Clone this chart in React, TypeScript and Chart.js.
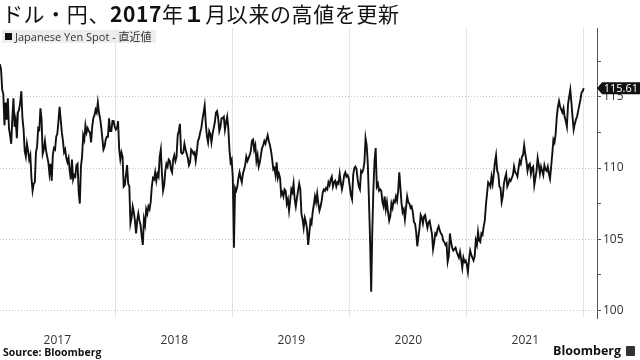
import React, { useEffect, useRef } from "react";
import { Chart, registerables } from "chart.js";

Chart.register(...registerables);

// ---- data (semi-weekly samples, 104 per year) ----
const STEPS_PER_YEAR = 104;
const YEARS = [2017, 2018, 2019, 2020, 2021, 2022];

const Y2017 = [
  118.5, 117.3, 116.9, 115.5, 115.2, 113.0, 114.6, 113.4,
  114.9, 112.8, 112.3, 111.7, 113.5, 114.9, 112.9, 113.4,
  112.1, 113.9, 114.1, 114.6, 115.4, 113.5, 112.7, 111.2,
  110.8, 111.7, 111.2, 110.6, 110.9, 109.3, 108.4, 108.9,
  109.0, 111.1, 111.5, 112.8, 112.7, 114.2, 113.4, 111.0,
  111.3, 111.9, 111.2, 110.8, 110.4, 109.6, 110.3, 109.1,
  110.9, 111.4, 111.3, 112.2, 112.4, 113.3, 114.3, 113.4,
  112.5, 111.9, 111.1, 111.3, 110.7, 110.4, 110.7, 109.8,
  109.2, 110.6, 109.2, 109.5, 109.4, 110.2, 110.3, 108.3,
  107.5, 110.1, 110.8, 112.3, 112.0, 113.0, 112.5, 112.8,
  112.6, 112.5, 111.8, 112.9, 113.5, 113.7, 114.1, 113.9,
  114.6, 113.9, 113.5, 112.9, 112.1, 111.3, 111.5, 112.0,
  112.2, 112.2, 113.5, 112.6, 112.6, 113.3, 113.3, 112.9,
];

const Y2018 = [
  112.7, 112.8, 113.3, 111.3, 110.6, 111.1, 110.8, 108.7,
  108.8, 109.5, 110.2, 108.9, 108.7, 106.1, 106.5, 107.3,
  106.9, 106.3, 105.4, 106.3, 106.8, 106.3, 106.0, 105.2,
  104.6, 106.4, 106.0, 107.1, 106.8, 107.3, 107.1, 107.6,
  108.7, 109.3, 109.2, 109.7, 109.1, 109.6, 109.4, 110.8,
  111.3, 109.6, 108.4, 108.8, 109.8, 110.3, 110.1, 110.6,
  110.5, 109.9, 109.7, 110.6, 110.9, 110.5, 110.8, 112.3,
  112.6, 113.1, 111.1, 111.0, 111.1, 111.7, 111.3, 111.0,
  110.7, 110.2, 110.4, 111.3, 111.2, 111.0, 111.1, 110.5,
  111.1, 111.9, 112.1, 112.5, 112.8, 113.4, 113.9, 114.4,
  113.1, 112.2, 111.8, 112.6, 112.4, 111.8, 112.4, 112.8,
  113.2, 113.9, 114.0, 113.5, 112.6, 112.9, 113.5, 113.5,
  113.6, 112.7, 113.2, 113.6, 112.8, 111.3, 110.4, 110.6,
];

const Y2019 = [
  109.3, 104.4, 108.6, 108.4, 108.7, 109.3, 109.7, 109.3,
  109.0, 109.6, 109.9, 110.2, 110.8, 110.5, 110.7, 110.9,
  111.2, 111.9, 112.0, 111.3, 111.6, 110.5, 110.9, 110.1,
  110.4, 110.9, 111.4, 111.6, 111.9, 111.7, 112.0, 112.3,
  111.9, 111.6, 111.2, 110.6, 109.9, 110.0, 109.5, 110.4,
  109.3, 109.6, 109.3, 108.1, 108.3, 108.0, 108.5, 108.4,
  107.5, 107.8, 107.0, 107.7, 108.5, 108.3, 108.9, 107.8,
  107.3, 107.9, 108.4, 108.9, 108.5, 106.8, 106.4, 105.8,
  106.5, 106.2, 105.7, 104.6, 105.4, 106.3, 106.1, 106.9,
  107.4, 108.0, 107.6, 108.2, 107.5, 107.0, 107.3, 107.7,
  108.3, 108.5, 108.4, 108.6, 108.5, 109.0, 108.8, 109.2,
  109.4, 108.7, 109.0, 109.1, 108.7, 109.0, 108.9, 109.6,
  109.0, 108.5, 108.9, 109.5, 109.7, 109.4, 109.5, 109.3,
];

const Y2020 = [
  108.7, 108.1, 107.8, 109.5, 110.0, 110.1, 109.9, 109.2,
  108.7, 108.5, 109.8, 109.7, 109.9, 110.4, 112.1, 111.6,
  110.3, 107.8, 105.0, 101.3, 105.6, 108.6, 110.5, 111.4,
  108.7, 108.9, 108.4, 108.5, 108.4, 107.6, 107.3, 108.0,
  107.1, 107.6, 106.9, 106.3, 106.6, 107.5, 107.2, 107.7,
  107.6, 108.0, 107.7, 108.4, 109.7, 108.6, 107.5, 106.9,
  107.1, 106.4, 107.2, 108.0, 107.6, 107.5, 107.2, 107.3,
  106.9, 106.2, 106.1, 105.5, 104.5, 105.2, 105.8, 106.7,
  106.5, 106.1, 106.6, 106.7, 106.2, 105.8, 106.2, 106.3,
  105.8, 105.4, 104.3, 104.8, 105.4, 105.3, 105.7, 105.9,
  105.6, 105.4, 105.3, 104.9, 104.8, 104.6, 104.7, 103.4,
  103.8, 105.4, 104.8, 104.4, 104.2, 104.3, 104.4, 104.1,
  103.9, 103.7, 104.1, 103.6, 103.0, 103.7, 103.4, 103.5,
];

const Y2021 = [
  103.2, 102.7, 103.6, 104.2, 103.9, 103.7, 103.5, 103.8,
  104.9, 104.6, 105.5, 104.9, 104.8, 105.4, 105.3, 105.9,
  106.3, 107.4, 108.2, 109.0, 108.9, 108.7, 109.4, 108.9,
  109.6, 110.4, 110.9, 109.8, 109.6, 108.7, 108.6, 107.6,
  108.0, 108.9, 109.3, 109.6, 108.7, 108.9, 109.2, 109.1,
  109.3, 109.5, 110.1, 109.7, 109.6, 109.4, 110.0, 110.5,
  110.3, 110.8, 110.9, 111.6, 111.0, 110.5, 109.8, 110.2,
  110.3, 109.6, 110.0, 110.1, 108.8, 109.3, 109.8, 110.7,
  110.2, 109.6, 110.1, 109.8, 109.5, 110.2, 109.9, 109.8,
  110.1, 109.6, 109.25, 110.1, 111.0, 112.0, 111.8, 112.4,
  113.6, 114.3, 114.7, 114.3, 114.1, 113.9, 114.2, 113.6,
  113.3, 112.9, 114.5, 115.0, 115.5, 114.6, 113.6, 112.7,
  113.1, 113.4, 113.6, 114.0, 114.4, 114.8, 115.3, 115.4,
];

const Y2022 = [115.61];

const SERIES = [Y2017, Y2018, Y2019, Y2020, Y2021, Y2022];
const LAST_VALUE = 115.61;

const X_LABEL_YEARS = [2017, 2018, 2019, 2020, 2021];
const X_GRID_YEARS = [2018, 2019, 2020, 2021, 2022];
const Y_TICKS = [100, 102.5, 105, 107.5, 110, 112.5, 115, 117.5];

const X_MIN = 2017.01;
const X_MAX = 2022.113;
const Y_MIN = 99.46;
const Y_MAX = 119.84;

const FONT = '"Open Sans", "Noto Sans", sans-serif';

const lastTagPlugin = {
  id: "lastTag",
  afterDraw(chart: any) {
    const { ctx, chartArea } = chart;
    const y = chart.scales.y.getPixelForValue(LAST_VALUE);
    const x0 = chartArea.right;
    const h = 12;
    const right = 640;
    ctx.save();
    ctx.fillStyle = "#111";
    ctx.beginPath();
    ctx.moveTo(x0, y);
    ctx.lineTo(x0 + 5, y - h / 2);
    ctx.lineTo(right, y - h / 2);
    ctx.lineTo(right, y + h / 2);
    ctx.lineTo(x0 + 5, y + h / 2);
    ctx.closePath();
    ctx.fill();
    ctx.fillStyle = "#fff";
    ctx.font = `11px ${FONT}`;
    ctx.textAlign = "right";
    ctx.textBaseline = "middle";
    ctx.fillText(LAST_VALUE.toFixed(2), 638, y + 0.5);
    ctx.restore();
  },
};

export default function App() {
  const canvasRef = useRef<HTMLCanvasElement | null>(null);

  useEffect(() => {
    const points: { x: number; y: number }[] = [];
    YEARS.forEach((yr, k) => {
      SERIES[k].forEach((v, i) => points.push({ x: yr + i / STEPS_PER_YEAR, y: v }));
    });

    const chart = new Chart(canvasRef.current as HTMLCanvasElement, {
      type: "line",
      data: {
        datasets: [
          {
            label: "Japanese Yen Spot - 直近値",
            data: points,
            borderColor: "#111",
            borderWidth: 1.9,
            pointRadius: 0,
            tension: 0,
            borderJoinStyle: "miter",
          },
        ],
      },
      plugins: [lastTagPlugin],
      options: {
        animation: false,
        responsive: false,
        parsing: false as any,
        normalized: true,
        layout: { padding: { left: 0, right: 0, top: 28, bottom: 0 } },
        plugins: { legend: { display: false }, tooltip: { enabled: false } },
        scales: {
          x: {
            type: "linear",
            min: X_MIN,
            max: X_MAX,
            afterBuildTicks: (scale: any) => {
              const vals = [
                ...X_LABEL_YEARS.map((y) => y + 0.5),
                ...X_GRID_YEARS,
              ].sort((a, b) => a - b);
              scale.ticks = vals.map((v) => ({ value: v }));
            },
            afterFit: (scale: any) => {
              scale.height = 42;
            },
            border: { display: false },
            grid: {
              drawTicks: false,
              color: (ctx: any) =>
                ctx.tick && Number.isInteger(ctx.tick.value) ? "#e4e4e4" : "rgba(0,0,0,0)",
              lineWidth: 1,
            },
            ticks: {
              autoSkip: false,
              maxRotation: 0,
              padding: 15,
              color: "#333",
              font: { size: 12, family: FONT },
              callback: (v: any) =>
                Number.isInteger(v) ? "" : String(Math.floor(Number(v))),
            },
          },
          y: {
            type: "linear",
            position: "right",
            min: Y_MIN,
            max: Y_MAX,
            afterBuildTicks: (scale: any) => {
              scale.ticks = Y_TICKS.map((v) => ({ value: v }));
            },
            afterFit: (scale: any) => {
              scale.width = 43;
            },
            border: {
              display: true,
              color: "#555",
              width: 1,
              dash: (ctx: any) =>
                ctx.tick && ctx.tick.value % 5 === 0 ? [1, 2] : [],
            } as any,
            grid: {
              drawTicks: true,
              tickLength: 4,
              tickColor: "#555",
              color: (ctx: any) =>
                ctx.tick && ctx.tick.value % 5 === 0 ? "#c8c8c8" : "rgba(0,0,0,0)",
            },
            ticks: {
              padding: 2,
              color: "#333",
              font: { size: 12, family: FONT },
              callback: (v: any) => (Number(v) % 5 === 0 ? String(v) : ""),
            },
          },
        },
      } as any,
    });
    return () => chart.destroy();
  }, []);

  return (
    <div
      style={{
        position: "fixed",
        left: 0,
        top: 0,
        width: 640,
        height: 360,
        background: "#fff",
        overflow: "hidden",
      }}
    >
      <canvas
        ref={canvasRef}
        width={640}
        height={360}
        style={{ position: "absolute", left: 0, top: 0, width: 640, height: 360 }}
      />
      <div
        style={{
          position: "absolute",
          left: 2,
          top: 0,
          fontFamily: '"Noto Sans CJK JP", sans-serif',
          fontSize: 21,
          letterSpacing: "0.6px",
          lineHeight: "26px",
          color: "#111",
          whiteSpace: "nowrap",
        }}
      >
        ドル・円、<b>2017</b>年<b>１</b>月以来の高値を更新
      </div>
      <div
        style={{
          position: "absolute",
          left: 2,
          top: 30,
          height: 13,
          padding: "0 4px 0 3px",
          background: "rgba(236,236,236,0.95)",
          fontFamily: '"Open Sans", "Noto Sans CJK JP", sans-serif',
          fontSize: 11,
          lineHeight: "13px",
          color: "#333",
          whiteSpace: "nowrap",
          display: "flex",
          alignItems: "center",
        }}
      >
        <span
          style={{
            display: "inline-block",
            width: 7,
            height: 7,
            background: "#111",
            marginRight: 3,
          }}
        />
        Japanese Yen Spot - 直近値
      </div>
      <div
        style={{
          position: "absolute",
          left: 3,
          top: 345,
          fontFamily: '"Open Sans", "Noto Sans", sans-serif',
          fontWeight: 700,
          fontSize: 10.5,
          lineHeight: "14px",
          color: "#111",
          whiteSpace: "nowrap",
        }}
      >
        Source: Bloomberg
      </div>
      <div
        style={{
          position: "absolute",
          right: 5,
          top: 343,
          fontFamily: '"Open Sans", "Noto Sans", sans-serif',
          fontWeight: 700,
          fontSize: 12.5,
          lineHeight: "16px",
          color: "#111",
          whiteSpace: "nowrap",
          display: "flex",
          alignItems: "center",
        }}
      >
        Bloomberg
        <span
          style={{
            display: "inline-block",
            width: 9,
            height: 10,
            marginLeft: 5,
            background: "#333",
            borderRadius: 1,
          }}
        />
      </div>
    </div>
  );
}
